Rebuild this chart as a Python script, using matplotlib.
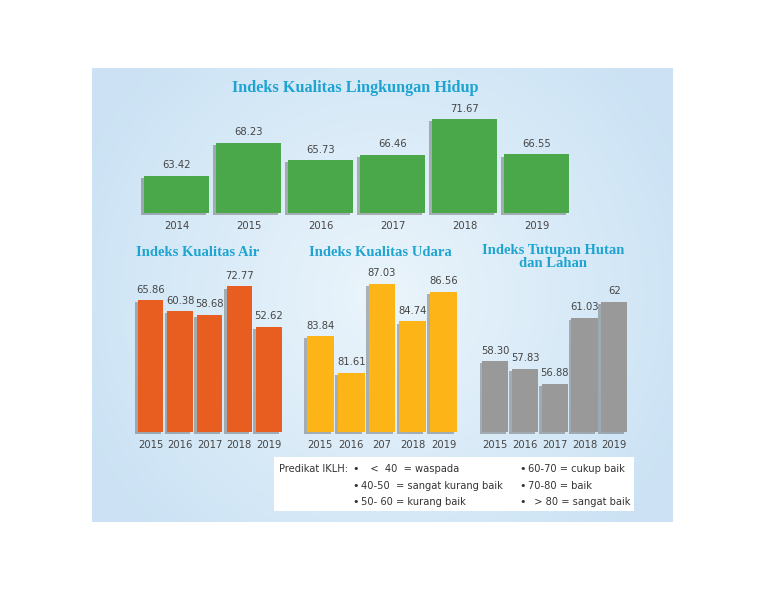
import numpy as np
import matplotlib
matplotlib.use('Agg')
import matplotlib.pyplot as plt
import matplotlib.patheffects as pe
from matplotlib import font_manager
from matplotlib.patches import Rectangle

# data
years_iklh = ['2014', '2015', '2016', '2017', '2018', '2019']
iklh = [63.42, 68.23, 65.73, 66.46, 71.67, 66.55]

years_sub = ['2015', '2016', '2017', '2018', '2019']
ika = [65.86, 60.38, 58.68, 72.77, 52.62]
iku = [83.84, 81.61, 87.03, 84.74, 86.56]
iku_labels = ['2015', '2016', '207', '2018', '2019']
iktl = [58.30, 57.83, 56.88, 61.03, 62]
iktl_text = ['58.30', '57.83', '56.88', '61.03', '62']

legend_left = ['   <  40  = waspada', '40-50  = sangat kurang baik', '50- 60 = kurang baik']
legend_right = ['60-70 = cukup baik', '70-80 = baik', '  > 80 = sangat baik']

W, H = 768, 594
serif = ['Liberation Serif', 'DejaVu Serif']
title_col = '#1fa4d2'
txt_col = '#454545'

# condensed sans if the condensed DejaVu is there, else plain DejaVu a bit smaller
has_cond = any(f.name == 'DejaVu Sans' and 'condensed' in str(f.stretch)
               for f in font_manager.fontManager.ttflist)
k = 1.0 if has_cond else 0.9
cond = dict(family='DejaVu Sans', fontstretch='condensed')

fig = plt.figure(figsize=(W / 100, H / 100), dpi=100)
fig.patch.set_facecolor('white')


def px_axes(x0, y0, x1, y1, z=1):
    # pixel box (top-left origin) -> figure axes
    return fig.add_axes([x0 / W, 1 - y1 / H, (x1 - x0) / W, (y1 - y0) / H], zorder=z)


# light blue panel with soft gradient
bg = px_axes(92, 68, 673, 522, z=0)
gx, gy = np.meshgrid(np.linspace(-1, 1, 300), np.linspace(-1, 1, 240))
d = np.clip(np.sqrt((gx * 0.9) ** 2 + (gy * 0.7) ** 2), 0, 1)
edge = np.array([0.80, 0.89, 0.96])
center = np.array([0.92, 0.96, 0.985])
img = center[None, None, :] * (1 - d[..., None]) + edge[None, None, :] * d[..., None]
bg.imshow(img, aspect='auto', extent=[0, 1, 0, 1])
bg.set_axis_off()

shadow = [pe.SimplePatchShadow(offset=(-2, -1.5), shadow_rgbFace='0.3', alpha=0.4), pe.Normal()]


def bar_panel(ax, labels, values, texts, color, ylim, width):
    x = np.arange(len(values))
    bars = ax.bar(x, np.array(values) - ylim[0], bottom=ylim[0], width=width, color=color)
    for b in bars:
        b.set_path_effects(shadow)
        b.set_clip_on(False)
    for xi, v, t in zip(x, values, texts):
        ax.annotate(t, (xi, v), xytext=(0, 4), textcoords='offset points',
                    ha='center', va='bottom', fontsize=8 * k, color=txt_col, **cond)
    ax.set_xlim(-0.5, len(values) - 0.5)
    ax.set_ylim(*ylim)
    ax.set_xticks(x)
    ax.set_xticklabels(labels, fontsize=8 * k, color=txt_col, **cond)
    ax.tick_params(axis='x', length=0, pad=6)
    ax.set_yticks([])
    for s in ax.spines.values():
        s.set_visible(False)
    ax.patch.set_alpha(0)


# top chart
ax0 = px_axes(140.5, 100, 572.5, 213, z=2)
bar_panel(ax0, years_iklh, iklh, ['%.2f' % v for v in iklh], '#4ba84a', (58.06, 74.44), 0.9)
fig.text(355 / W, 1 - 88 / H, 'Indeks Kualitas Lingkungan Hidup', ha='center', va='center',
         fontsize=11.7, fontweight='bold', color=title_col, family=serif)

# air
ax1 = px_axes(135.75, 270, 283.75, 432, z=2)
bar_panel(ax1, years_sub, ika, ['%.2f' % v for v in ika], '#e85e20', (0, 81), 0.86)
fig.text(198 / W, 1 - 252 / H, 'Indeks Kualitas Air', ha='center', va='center',
         fontsize=10.5, fontweight='bold', color=title_col, family=serif)

# udara
ax2 = px_axes(305, 270, 459, 432, z=2)
bar_panel(ax2, iku_labels, iku, ['%.2f' % v for v in iku], '#fcb416', (78.0, 87.88), 0.87)
fig.text(380 / W, 1 - 252 / H, 'Indeks Kualitas Udara', ha='center', va='center',
         fontsize=10.5, fontweight='bold', color=title_col, family=serif)

# tutupan hutan
ax3 = px_axes(480.5, 270, 629, 432, z=2)
bar_panel(ax3, years_sub, iktl, iktl_text, '#999999', (53.88, 64.0), 0.88)
fig.text(553 / W, 1 - 257 / H, 'Indeks Tutupan Hutan\ndan Lahan', ha='center', va='center',
         fontsize=10.5, fontweight='bold', color=title_col, family=serif, linespacing=0.95)

# legend box
fig.patches.append(Rectangle((274 / W, 1 - 511 / H), (634 - 274) / W, (511 - 457) / H,
                             transform=fig.transFigure, facecolor='white', edgecolor='none', zorder=3))
rows_y = [469, 486, 502]
fs = 7.9 * k
fig.text(279 / W, 1 - rows_y[0] / H, 'Predikat IKLH:', ha='left', va='center',
         fontsize=7.9 * k, color='#333333', zorder=4, **cond)
for yy, t in zip(rows_y, legend_left):
    fig.text(356 / W, 1 - yy / H, '\u2022', ha='center', va='center', fontsize=fs, color='#333333', zorder=4)
    fig.text(361 / W, 1 - yy / H, t, ha='left', va='center', fontsize=fs, color='#333333',
             zorder=4, **cond)
for yy, t in zip(rows_y, legend_right):
    fig.text(523 / W, 1 - yy / H, '\u2022', ha='center', va='center', fontsize=fs, color='#333333', zorder=4)
    fig.text(528 / W, 1 - yy / H, t, ha='left', va='center', fontsize=fs, color='#333333',
             zorder=4, **cond)

fig.savefig('out.png', dpi=100)
